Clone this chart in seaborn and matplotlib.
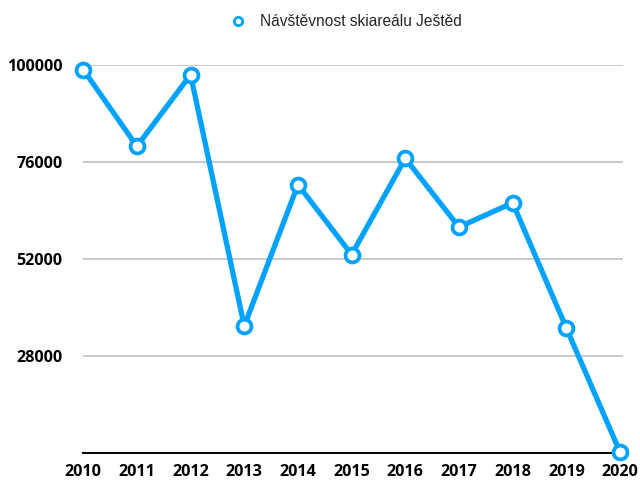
import matplotlib
matplotlib.use("Agg")
import matplotlib.pyplot as plt
from matplotlib.lines import Line2D
import seaborn as sns

# data
years = [2010, 2011, 2012, 2013, 2014, 2015, 2016, 2017, 2018, 2019, 2020]
visits = [99000, 80000, 97700, 35500, 70500, 53200, 77000, 60000, 66000, 35000, 4300]
y_ticks = [28000, 52000, 76000, 100000]
series_name = "Návštěvnost skiareálu Ještěd"

blue = "#00A2FF"

sns.set_theme(style="white")
plt.rcParams["font.family"] = ["Open Sans", "DejaVu Sans"]

fig = plt.figure(figsize=(6.4, 4.8), dpi=100)
ax = fig.add_axes([0.13, 0.0556, 0.843, 0.808])

sns.lineplot(x=years, y=visits, ax=ax, color=blue, linewidth=3.8,
             marker="o", markersize=10, markerfacecolor="white",
             markeredgecolor=blue, markeredgewidth=2.7, clip_on=False, zorder=5)

ax.set_xlim(2010, 2020.05)
ax.set_ylim(4000, 100000)
ax.set_yticks(y_ticks)
ax.set_xticks(years)
ax.set_xticklabels([str(y) for y in years])
ax.yaxis.grid(True, color="#c0c0c0", linewidth=1.2)
ax.set_axisbelow(True)

for side in ["left", "right", "top"]:
    ax.spines[side].set_visible(False)
ax.spines["bottom"].set_color("black")
ax.spines["bottom"].set_linewidth(1.4)

ax.tick_params(axis="both", length=0, labelsize=11.6)
ax.tick_params(axis="y", pad=15)
ax.tick_params(axis="x", pad=8)
for lbl in ax.get_xticklabels() + ax.get_yticklabels():
    lbl.set_fontweight("bold")
    lbl.set_color("black")

handle = Line2D([], [], linestyle="none", marker="o", markersize=6,
                markerfacecolor="white", markeredgecolor=blue, markeredgewidth=2)
fig.legend([handle], [series_name], loc="upper center",
           bbox_to_anchor=(0.535, 1.0), frameon=False, handletextpad=0.4,
           prop={"family": ["Liberation Sans"], "size": 11.2})

fig.savefig("out.png", dpi=100)
